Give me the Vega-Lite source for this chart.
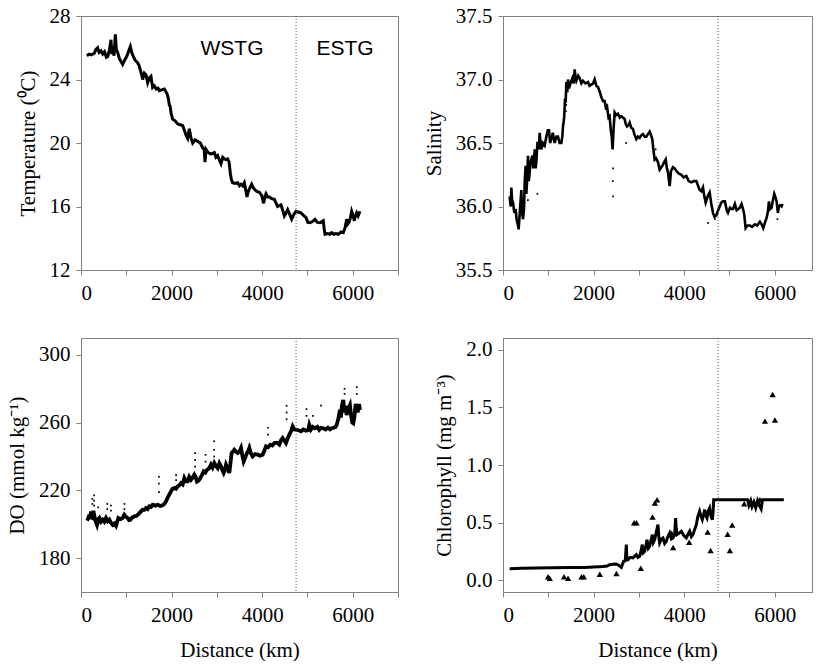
{
"$schema": "https://vega.github.io/schema/vega-lite/v6.json",
"background": "white",
"padding": {"left": 6, "top": 4, "right": 0, "bottom": 0},
"bounds": "flush",
"columns": 2,
"spacing": {"column": 105, "row": 68},
"concat": [
{"width": 317, "height": 254,
 "layer": [
  {"data": {"name": "temp"}, "mark": {"type": "line", "color": "black", "strokeWidth": 3},
   "encoding": {
    "x": {"field": "d", "type": "quantitative", "scale": {"domain": [0, 7000], "nice": false},
          "axis": {"title": null, "values": [0,1000,2000,3000,4000,5000,6000,7000], "format": "d", "labelExpr": "datum.value % 2000 == 0 ? datum.label : ''", "labelPadding": 7, "labelFont": "Liberation Serif", "titleFont": "Liberation Serif"}},
    "y": {"field": "v", "type": "quantitative", "scale": {"domain": [12, 28], "nice": false, "zero": false},
          "axis": {"title": "Temperature (⁰C)", "values": [12,14,16,18,20,22,24,26,28], "format": "d", "labelExpr": "datum.value % 4 == 0 ? datum.label : ''", "labelPadding": 6, "titlePadding": 11, "labelFont": "Liberation Serif", "titleFont": "Liberation Serif"}}
   }},
  {"data": {"name": "div"}, "mark": {"type": "rule", "color": "#555555", "strokeWidth": 1, "strokeDash": [1, 2]},
   "encoding": {"x": {"field": "d", "type": "quantitative"}}},
  {"data": {"name": "regions"}, "mark": {"type": "text", "font": "Liberation Sans", "fontSize": 21, "color": "black", "align": "center", "baseline": "middle"},
   "encoding": {"x": {"field": "d", "type": "quantitative"}, "y": {"field": "v", "type": "quantitative"}, "text": {"field": "t"}}}
 ]},
{"width": 309, "height": 254,
 "layer": [
  {"data": {"name": "sal"}, "mark": {"type": "line", "color": "black", "strokeWidth": 2.6},
   "encoding": {
    "x": {"field": "d", "type": "quantitative", "scale": {"domain": [0, 6823], "nice": false},
          "axis": {"title": null, "values": [0,1000,2000,3000,4000,5000,6000], "format": "d", "labelExpr": "datum.value % 2000 == 0 ? datum.label : ''", "labelPadding": 7, "labelFont": "Liberation Serif", "titleFont": "Liberation Serif"}},
    "y": {"field": "v", "type": "quantitative", "scale": {"domain": [35.5, 37.5], "nice": false, "zero": false},
          "axis": {"title": "Salinity", "values": [35.5,35.75,36,36.25,36.5,36.75,37,37.25,37.5], "format": ".1f", "labelExpr": "(datum.value * 2) % 1 == 0 ? datum.label : ''", "labelPadding": 6, "titlePadding": 11, "labelFont": "Liberation Serif", "titleFont": "Liberation Serif"}}
   }},
  {"data": {"name": "saldots"}, "mark": {"type": "square", "color": "black", "size": 3, "opacity": 1},
   "encoding": {"x": {"field": "d", "type": "quantitative"}, "y": {"field": "v", "type": "quantitative"}}},
  {"data": {"name": "div"}, "mark": {"type": "rule", "color": "#555555", "strokeWidth": 1, "strokeDash": [1, 2]},
   "encoding": {"x": {"field": "d", "type": "quantitative"}}}
 ]},
{"width": 317, "height": 254,
 "layer": [
  {"data": {"name": "do"}, "mark": {"type": "line", "color": "black", "strokeWidth": 3.8},
   "encoding": {
    "x": {"field": "d", "type": "quantitative", "scale": {"domain": [0, 7000], "nice": false},
          "axis": {"title": "Distance (km)", "values": [0,1000,2000,3000,4000,5000,6000,7000], "format": "d", "labelExpr": "datum.value % 2000 == 0 ? datum.label : ''", "labelPadding": 7, "titlePadding": 14, "labelFont": "Liberation Serif", "titleFont": "Liberation Serif"}},
    "y": {"field": "v", "type": "quantitative", "scale": {"domain": [160, 310], "nice": false, "zero": false},
          "axis": {"title": "DO (mmol kg⁻¹)", "values": [180,220,260,300], "format": "d", "labelPadding": 6, "titlePadding": 11, "labelFont": "Liberation Serif", "titleFont": "Liberation Serif"}}
   }},
  {"data": {"name": "dodots"}, "mark": {"type": "square", "color": "black", "size": 3, "opacity": 1},
   "encoding": {"x": {"field": "d", "type": "quantitative"}, "y": {"field": "v", "type": "quantitative"}}},
  {"data": {"name": "div"}, "mark": {"type": "rule", "color": "#555555", "strokeWidth": 1, "strokeDash": [1, 2]},
   "encoding": {"x": {"field": "d", "type": "quantitative"}}}
 ]},
{"width": 309, "height": 254,
 "layer": [
  {"data": {"name": "chl"}, "mark": {"type": "line", "color": "black", "strokeWidth": 3},
   "encoding": {
    "x": {"field": "d", "type": "quantitative", "scale": {"domain": [0, 6823], "nice": false},
          "axis": {"title": "Distance (km)", "values": [0,1000,2000,3000,4000,5000,6000], "format": "d", "labelExpr": "datum.value % 2000 == 0 ? datum.label : ''", "labelPadding": 7, "titlePadding": 14, "labelFont": "Liberation Serif", "titleFont": "Liberation Serif"}},
    "y": {"field": "v", "type": "quantitative", "scale": {"domain": [-0.1, 2.1], "nice": false, "zero": false},
          "axis": {"title": "Chlorophyll (mg m⁻³)", "values": [0,0.25,0.5,0.75,1,1.25,1.5,1.75,2], "format": ".1f", "labelExpr": "(datum.value * 2) % 1 == 0 ? datum.label : ''", "labelPadding": 6, "titlePadding": 11, "labelFont": "Liberation Serif", "titleFont": "Liberation Serif"}}
   }},
  {"data": {"name": "chlobs"}, "mark": {"type": "point", "shape": "triangle-up", "filled": true, "color": "black", "size": 40, "opacity": 1},
   "encoding": {"x": {"field": "d", "type": "quantitative"}, "y": {"field": "v", "type": "quantitative"}}},
  {"data": {"name": "div"}, "mark": {"type": "rule", "color": "#555555", "strokeWidth": 1, "strokeDash": [1, 2]},
   "encoding": {"x": {"field": "d", "type": "quantitative"}}}
 ]}
],
"datasets": {
"div": [{"d":4750}],
"regions": [{"d":3334,"v":25.9,"t":"WSTG"},{"d":5830,"v":25.9,"t":"ESTG"}],
"temp": [{"d":130,"v":25.5},{"d":180,"v":25.6},{"d":230,"v":25.55},{"d":294,"v":25.65},{"d":330,"v":25.9},{"d":368,"v":26.0},{"d":400,"v":25.7},{"d":442,"v":25.8},{"d":480,"v":25.6},{"d":520,"v":25.75},{"d":560,"v":25.4},{"d":590,"v":25.45},{"d":630,"v":25.9},{"d":662,"v":26.5},{"d":680,"v":25.6},{"d":700,"v":26.1},{"d":730,"v":25.5},{"d":758,"v":26.85},{"d":780,"v":25.9},{"d":810,"v":25.7},{"d":850,"v":25.3},{"d":890,"v":25.1},{"d":920,"v":24.95},{"d":960,"v":25.2},{"d":1000,"v":25.4},{"d":1030,"v":25.6},{"d":1060,"v":25.85},{"d":1090,"v":26.07},{"d":1120,"v":25.7},{"d":1163,"v":25.4},{"d":1200,"v":25.2},{"d":1250,"v":25.06},{"d":1280,"v":24.9},{"d":1310,"v":24.6},{"d":1340,"v":24.3},{"d":1362,"v":24.0},{"d":1400,"v":24.4},{"d":1435,"v":24.3},{"d":1472,"v":23.8},{"d":1510,"v":24.1},{"d":1545,"v":24.2},{"d":1582,"v":23.5},{"d":1620,"v":23.6},{"d":1660,"v":23.4},{"d":1700,"v":23.45},{"d":1730,"v":23.3},{"d":1780,"v":23.35},{"d":1840,"v":23.4},{"d":1900,"v":23.1},{"d":1930,"v":22.8},{"d":1950,"v":22.4},{"d":1970,"v":22.3},{"d":1987,"v":21.9},{"d":2024,"v":21.5},{"d":2080,"v":21.4},{"d":2134,"v":21.2},{"d":2190,"v":21.15},{"d":2245,"v":21.1},{"d":2282,"v":20.8},{"d":2320,"v":20.5},{"d":2355,"v":20.3},{"d":2392,"v":20.9},{"d":2430,"v":20.3},{"d":2466,"v":20.0},{"d":2520,"v":20.2},{"d":2576,"v":20.1},{"d":2635,"v":20.0},{"d":2686,"v":19.7},{"d":2720,"v":19.6},{"d":2738,"v":18.8},{"d":2760,"v":19.6},{"d":2810,"v":19.4},{"d":2870,"v":19.3},{"d":2944,"v":19.4},{"d":2980,"v":19.1},{"d":3018,"v":19.2},{"d":3060,"v":18.9},{"d":3091,"v":18.7},{"d":3130,"v":19.1},{"d":3165,"v":19.0},{"d":3200,"v":18.95},{"d":3238,"v":19.0},{"d":3270,"v":18.8},{"d":3297,"v":18.1},{"d":3320,"v":17.7},{"d":3349,"v":17.5},{"d":3400,"v":17.45},{"d":3459,"v":17.5},{"d":3500,"v":17.3},{"d":3533,"v":17.4},{"d":3570,"v":17.3},{"d":3606,"v":17.5},{"d":3640,"v":17.0},{"d":3665,"v":16.6},{"d":3690,"v":16.9},{"d":3717,"v":17.1},{"d":3768,"v":17.4},{"d":3800,"v":17.2},{"d":3827,"v":17.1},{"d":3880,"v":16.95},{"d":3938,"v":16.9},{"d":3990,"v":16.7},{"d":4033,"v":16.2},{"d":4060,"v":16.6},{"d":4085,"v":16.8},{"d":4120,"v":16.6},{"d":4158,"v":16.6},{"d":4210,"v":16.5},{"d":4269,"v":16.45},{"d":4310,"v":16.2},{"d":4342,"v":16.0},{"d":4380,"v":16.05},{"d":4416,"v":16.1},{"d":4450,"v":15.8},{"d":4490,"v":15.4},{"d":4530,"v":15.6},{"d":4563,"v":15.8},{"d":4610,"v":15.5},{"d":4652,"v":15.2},{"d":4700,"v":15.5},{"d":4747,"v":15.7},{"d":4800,"v":15.65},{"d":4858,"v":15.6},{"d":4910,"v":15.45},{"d":4968,"v":15.3},{"d":5010,"v":15.0},{"d":5056,"v":14.98},{"d":5110,"v":15.05},{"d":5167,"v":15.19},{"d":5220,"v":15.0},{"d":5277,"v":14.98},{"d":5320,"v":15.05},{"d":5350,"v":15.1},{"d":5370,"v":14.6},{"d":5388,"v":14.25},{"d":5440,"v":14.3},{"d":5490,"v":14.25},{"d":5535,"v":14.35},{"d":5580,"v":14.25},{"d":5630,"v":14.3},{"d":5682,"v":14.25},{"d":5740,"v":14.4},{"d":5792,"v":14.35},{"d":5830,"v":14.65},{"d":5866,"v":15.2},{"d":5890,"v":14.9},{"d":5917,"v":15.0},{"d":5950,"v":15.3},{"d":5977,"v":15.7},{"d":6000,"v":15.5},{"d":6036,"v":15.1},{"d":6060,"v":15.4},{"d":6087,"v":15.6},{"d":6120,"v":15.4},{"d":6160,"v":15.7}],
"sal": [{"d":147,"v":36.08},{"d":170,"v":36.0},{"d":184,"v":36.15},{"d":200,"v":36.05},{"d":221,"v":36.03},{"d":250,"v":35.95},{"d":280,"v":35.98},{"d":300,"v":35.9},{"d":331,"v":35.85},{"d":345,"v":35.82},{"d":370,"v":35.95},{"d":405,"v":36.13},{"d":420,"v":35.95},{"d":442,"v":35.9},{"d":464,"v":35.98},{"d":480,"v":36.2},{"d":500,"v":36.32},{"d":515,"v":36.1},{"d":530,"v":36.19},{"d":552,"v":36.4},{"d":570,"v":36.2},{"d":589,"v":36.27},{"d":610,"v":36.35},{"d":648,"v":36.4},{"d":670,"v":36.3},{"d":700,"v":36.45},{"d":720,"v":36.3},{"d":736,"v":36.35},{"d":760,"v":36.5},{"d":773,"v":36.5},{"d":790,"v":36.45},{"d":810,"v":36.58},{"d":830,"v":36.5},{"d":846,"v":36.45},{"d":880,"v":36.5},{"d":920,"v":36.48},{"d":957,"v":36.55},{"d":990,"v":36.6},{"d":1016,"v":36.6},{"d":1040,"v":36.5},{"d":1067,"v":36.53},{"d":1100,"v":36.58},{"d":1141,"v":36.5},{"d":1180,"v":36.55},{"d":1214,"v":36.55},{"d":1250,"v":36.5},{"d":1288,"v":36.5},{"d":1310,"v":36.55},{"d":1325,"v":36.63},{"d":1350,"v":36.7},{"d":1370,"v":36.85},{"d":1384,"v":36.82},{"d":1398,"v":36.98},{"d":1420,"v":36.9},{"d":1435,"v":37.0},{"d":1460,"v":36.93},{"d":1472,"v":36.95},{"d":1500,"v":36.98},{"d":1531,"v":37.01},{"d":1560,"v":36.97},{"d":1582,"v":37.08},{"d":1600,"v":37.02},{"d":1619,"v":36.99},{"d":1660,"v":37.03},{"d":1693,"v":37.01},{"d":1730,"v":36.97},{"d":1766,"v":36.99},{"d":1820,"v":36.97},{"d":1877,"v":36.98},{"d":1910,"v":36.95},{"d":1950,"v":36.96},{"d":1990,"v":36.97},{"d":2024,"v":37.0},{"d":2060,"v":36.95},{"d":2098,"v":36.94},{"d":2140,"v":36.9},{"d":2171,"v":36.86},{"d":2210,"v":36.83},{"d":2245,"v":36.83},{"d":2270,"v":36.78},{"d":2296,"v":36.79},{"d":2330,"v":36.7},{"d":2355,"v":36.71},{"d":2380,"v":36.6},{"d":2400,"v":36.55},{"d":2420,"v":36.45},{"d":2440,"v":36.6},{"d":2466,"v":36.74},{"d":2500,"v":36.72},{"d":2539,"v":36.73},{"d":2580,"v":36.7},{"d":2613,"v":36.71},{"d":2650,"v":36.7},{"d":2686,"v":36.69},{"d":2710,"v":36.65},{"d":2738,"v":36.63},{"d":2770,"v":36.64},{"d":2797,"v":36.66},{"d":2830,"v":36.62},{"d":2870,"v":36.61},{"d":2900,"v":36.57},{"d":2944,"v":36.53},{"d":2980,"v":36.55},{"d":3018,"v":36.54},{"d":3050,"v":36.56},{"d":3091,"v":36.57},{"d":3130,"v":36.55},{"d":3165,"v":36.55},{"d":3200,"v":36.57},{"d":3238,"v":36.59},{"d":3270,"v":36.56},{"d":3297,"v":36.53},{"d":3320,"v":36.45},{"d":3349,"v":36.37},{"d":3380,"v":36.38},{"d":3422,"v":36.35},{"d":3440,"v":36.32},{"d":3459,"v":36.29},{"d":3500,"v":36.31},{"d":3533,"v":36.33},{"d":3560,"v":36.35},{"d":3592,"v":36.37},{"d":3620,"v":36.3},{"d":3643,"v":36.27},{"d":3665,"v":36.2},{"d":3680,"v":36.16},{"d":3710,"v":36.28},{"d":3754,"v":36.31},{"d":3790,"v":36.3},{"d":3827,"v":36.28},{"d":3880,"v":36.26},{"d":3938,"v":36.25},{"d":3990,"v":36.23},{"d":4048,"v":36.24},{"d":4100,"v":36.2},{"d":4158,"v":36.19},{"d":4210,"v":36.2},{"d":4269,"v":36.2},{"d":4300,"v":36.17},{"d":4342,"v":36.13},{"d":4380,"v":36.12},{"d":4416,"v":36.15},{"d":4445,"v":36.08},{"d":4475,"v":36.03},{"d":4520,"v":36.08},{"d":4563,"v":36.11},{"d":4600,"v":36.02},{"d":4637,"v":35.95},{"d":4670,"v":35.92},{"d":4710,"v":35.93},{"d":4750,"v":35.97},{"d":4784,"v":36.0},{"d":4820,"v":36.03},{"d":4858,"v":36.04},{"d":4900,"v":36.04},{"d":4940,"v":35.97},{"d":4968,"v":35.95},{"d":5010,"v":35.99},{"d":5042,"v":35.98},{"d":5080,"v":35.98},{"d":5120,"v":36.02},{"d":5160,"v":35.97},{"d":5194,"v":35.98},{"d":5230,"v":35.99},{"d":5268,"v":36.02},{"d":5300,"v":35.98},{"d":5326,"v":35.94},{"d":5357,"v":35.83},{"d":5400,"v":35.85},{"d":5452,"v":35.85},{"d":5500,"v":35.84},{"d":5562,"v":35.86},{"d":5610,"v":35.85},{"d":5673,"v":35.88},{"d":5710,"v":35.86},{"d":5746,"v":35.83},{"d":5790,"v":35.88},{"d":5820,"v":35.91},{"d":5850,"v":35.96},{"d":5872,"v":36.04},{"d":5900,"v":35.98},{"d":5931,"v":35.99},{"d":5960,"v":36.05},{"d":5990,"v":36.1},{"d":6010,"v":36.08},{"d":6042,"v":36.04},{"d":6070,"v":35.95},{"d":6090,"v":36.0},{"d":6115,"v":36.01},{"d":6150,"v":36.0},{"d":6174,"v":36.02}],
"saldots": [{"d":2430,"v":36.08},{"d":2430,"v":36.3},{"d":2425,"v":36.2},{"d":760,"v":36.1},{"d":550,"v":36.05},{"d":2720,"v":36.5},{"d":3370,"v":36.45},{"d":4530,"v":35.87},{"d":4680,"v":35.9},{"d":6060,"v":35.9},{"d":1390,"v":36.75},{"d":1395,"v":36.8}],
"do": [{"d":132,"v":202.1},{"d":160,"v":203.5},{"d":184,"v":205.6},{"d":200,"v":203},{"d":221,"v":207.6},{"d":240,"v":204},{"d":258,"v":203.7},{"d":275,"v":208},{"d":294,"v":205},{"d":320,"v":202},{"d":353,"v":199.7},{"d":380,"v":203},{"d":405,"v":203.7},{"d":440,"v":201.5},{"d":478,"v":202.7},{"d":515,"v":201.5},{"d":552,"v":203.7},{"d":590,"v":201.8},{"d":626,"v":202.7},{"d":660,"v":201},{"d":700,"v":199.7},{"d":740,"v":200.5},{"d":773,"v":199.1},{"d":800,"v":201.5},{"d":824,"v":203.7},{"d":870,"v":203},{"d":920,"v":203.7},{"d":957,"v":205.6},{"d":990,"v":204.5},{"d":1030,"v":203.7},{"d":1060,"v":202.5},{"d":1089,"v":202.7},{"d":1130,"v":204},{"d":1178,"v":204.7},{"d":1230,"v":205},{"d":1288,"v":206.6},{"d":1320,"v":207.5},{"d":1362,"v":208.6},{"d":1400,"v":208.5},{"d":1435,"v":209.6},{"d":1470,"v":209},{"d":1509,"v":210.6},{"d":1545,"v":210.2},{"d":1582,"v":211.5},{"d":1640,"v":211},{"d":1693,"v":211.5},{"d":1750,"v":210.8},{"d":1803,"v":211.2},{"d":1840,"v":212},{"d":1877,"v":213.5},{"d":1928,"v":216.5},{"d":1960,"v":218},{"d":1987,"v":219.4},{"d":2020,"v":221},{"d":2061,"v":221.4},{"d":2100,"v":221},{"d":2134,"v":222.4},{"d":2170,"v":223},{"d":2208,"v":224.3},{"d":2245,"v":223.5},{"d":2282,"v":227.3},{"d":2320,"v":225.3},{"d":2355,"v":225.3},{"d":2390,"v":228},{"d":2429,"v":226.3},{"d":2465,"v":227.5},{"d":2502,"v":229.3},{"d":2530,"v":228},{"d":2561,"v":225.3},{"d":2600,"v":226},{"d":2635,"v":227.3},{"d":2670,"v":229},{"d":2708,"v":231.2},{"d":2745,"v":230.5},{"d":2782,"v":232.2},{"d":2830,"v":233},{"d":2870,"v":235.2},{"d":2905,"v":233.5},{"d":2944,"v":236.2},{"d":2980,"v":234.5},{"d":3018,"v":233.2},{"d":3055,"v":236},{"d":3091,"v":234.2},{"d":3120,"v":232},{"d":3150,"v":230.3},{"d":3175,"v":232},{"d":3202,"v":235.2},{"d":3240,"v":233},{"d":3275,"v":230.3},{"d":3300,"v":236},{"d":3327,"v":242.1},{"d":3360,"v":243},{"d":3386,"v":244.0},{"d":3420,"v":243},{"d":3459,"v":242.1},{"d":3500,"v":243},{"d":3533,"v":245.0},{"d":3560,"v":241},{"d":3592,"v":237.1},{"d":3630,"v":239.5},{"d":3665,"v":242.1},{"d":3690,"v":243},{"d":3717,"v":245.0},{"d":3750,"v":242},{"d":3790,"v":240.1},{"d":3845,"v":241.5},{"d":3901,"v":241.1},{"d":3955,"v":240.5},{"d":4011,"v":241.1},{"d":4050,"v":243.5},{"d":4085,"v":246.0},{"d":4130,"v":245.5},{"d":4180,"v":247.0},{"d":4225,"v":246.5},{"d":4269,"v":248.0},{"d":4325,"v":248.2},{"d":4379,"v":247.0},{"d":4415,"v":249.5},{"d":4453,"v":250.9},{"d":4490,"v":249.5},{"d":4526,"v":248.0},{"d":4560,"v":250.5},{"d":4600,"v":252.9},{"d":4640,"v":255},{"d":4674,"v":257.8},{"d":4710,"v":256},{"d":4747,"v":255.9},{"d":4800,"v":255.5},{"d":4858,"v":254.9},{"d":4910,"v":256},{"d":4968,"v":255.3},{"d":5019,"v":255.7},{"d":5042,"v":258.8},{"d":5080,"v":256},{"d":5120,"v":257.5},{"d":5167,"v":256.7},{"d":5220,"v":257.5},{"d":5260,"v":255.8},{"d":5300,"v":257},{"d":5350,"v":256.7},{"d":5400,"v":256},{"d":5450,"v":257},{"d":5500,"v":256},{"d":5535,"v":256.7},{"d":5580,"v":257},{"d":5620,"v":257.5},{"d":5645,"v":258.6},{"d":5680,"v":262},{"d":5718,"v":267.5},{"d":5740,"v":263},{"d":5760,"v":270},{"d":5792,"v":273.4},{"d":5815,"v":266},{"d":5840,"v":270},{"d":5866,"v":264.5},{"d":5900,"v":268},{"d":5939,"v":270.4},{"d":5970,"v":263},{"d":5990,"v":260},{"d":6013,"v":259.6},{"d":6040,"v":264},{"d":6065,"v":271},{"d":6087,"v":269.4},{"d":6110,"v":266},{"d":6140,"v":271},{"d":6160,"v":267.5}],
"dodots": [{"d":250,"v":215},{"d":250,"v":212},{"d":290,"v":217},{"d":290,"v":214},{"d":290,"v":211},{"d":580,"v":212},{"d":580,"v":209},{"d":660,"v":211},{"d":660,"v":208},{"d":380,"v":210},{"d":960,"v":212},{"d":960,"v":209},{"d":1720,"v":228},{"d":1720,"v":224},{"d":1720,"v":219},{"d":2100,"v":229},{"d":2100,"v":226},{"d":2520,"v":242},{"d":2520,"v":238},{"d":2520,"v":234},{"d":2750,"v":241},{"d":2750,"v":237},{"d":2940,"v":249},{"d":2940,"v":244},{"d":2940,"v":240},{"d":3720,"v":247},{"d":4130,"v":257},{"d":4130,"v":253},{"d":4540,"v":270},{"d":4540,"v":266},{"d":4540,"v":262},{"d":4980,"v":268},{"d":4980,"v":264},{"d":5120,"v":264},{"d":5300,"v":270},{"d":5820,"v":280},{"d":5820,"v":277},{"d":6090,"v":281},{"d":6090,"v":277}],
"chl": [{"d":147,"v":0.102},{"d":400,"v":0.105},{"d":736,"v":0.108},{"d":1100,"v":0.11},{"d":1472,"v":0.112},{"d":1800,"v":0.113},{"d":2208,"v":0.12},{"d":2300,"v":0.125},{"d":2355,"v":0.137},{"d":2420,"v":0.14},{"d":2502,"v":0.143},{"d":2560,"v":0.13},{"d":2613,"v":0.114},{"d":2664,"v":0.166},{"d":2700,"v":0.17},{"d":2723,"v":0.31},{"d":2735,"v":0.19},{"d":2760,"v":0.18},{"d":2810,"v":0.2},{"d":2870,"v":0.195},{"d":2944,"v":0.223},{"d":2980,"v":0.2},{"d":3018,"v":0.209},{"d":3050,"v":0.26},{"d":3076,"v":0.31},{"d":3100,"v":0.24},{"d":3128,"v":0.252},{"d":3155,"v":0.3},{"d":3180,"v":0.353},{"d":3210,"v":0.28},{"d":3238,"v":0.296},{"d":3270,"v":0.35},{"d":3297,"v":0.397},{"d":3320,"v":0.33},{"d":3349,"v":0.353},{"d":3385,"v":0.42},{"d":3422,"v":0.483},{"d":3440,"v":0.38},{"d":3459,"v":0.325},{"d":3500,"v":0.36},{"d":3533,"v":0.368},{"d":3570,"v":0.32},{"d":3606,"v":0.339},{"d":3640,"v":0.38},{"d":3680,"v":0.411},{"d":3720,"v":0.36},{"d":3754,"v":0.368},{"d":3790,"v":0.4},{"d":3812,"v":0.541},{"d":3825,"v":0.45},{"d":3842,"v":0.397},{"d":3890,"v":0.41},{"d":3938,"v":0.426},{"d":3990,"v":0.39},{"d":4048,"v":0.368},{"d":4085,"v":0.4},{"d":4122,"v":0.426},{"d":4160,"v":0.38},{"d":4195,"v":0.397},{"d":4230,"v":0.44},{"d":4269,"v":0.483},{"d":4300,"v":0.55},{"d":4342,"v":0.599},{"d":4370,"v":0.56},{"d":4401,"v":0.527},{"d":4430,"v":0.57},{"d":4453,"v":0.613},{"d":4480,"v":0.56},{"d":4504,"v":0.541},{"d":4530,"v":0.6},{"d":4563,"v":0.628},{"d":4590,"v":0.56},{"d":4622,"v":0.527},{"d":4640,"v":0.6},{"d":4652,"v":0.7},{"d":4700,"v":0.7},{"d":5000,"v":0.7},{"d":5300,"v":0.7},{"d":5400,"v":0.7},{"d":5430,"v":0.65},{"d":5470,"v":0.69},{"d":5500,"v":0.64},{"d":5540,"v":0.68},{"d":5580,"v":0.63},{"d":5620,"v":0.69},{"d":5660,"v":0.65},{"d":5700,"v":0.62},{"d":5730,"v":0.7},{"d":6000,"v":0.7},{"d":6200,"v":0.7}],
"chlobs": [{"d":995,"v":0.033},{"d":1032,"v":0.02},{"d":1348,"v":0.033},{"d":1437,"v":0.02},{"d":1733,"v":0.033},{"d":1784,"v":0.033},{"d":2137,"v":0.053},{"d":2506,"v":0.06},{"d":2895,"v":0.5},{"d":2948,"v":0.5},{"d":3043,"v":0.105},{"d":3302,"v":0.55},{"d":3353,"v":0.67},{"d":3403,"v":0.7},{"d":3721,"v":0.41},{"d":3757,"v":0.286},{"d":4111,"v":0.33},{"d":4518,"v":0.42},{"d":4584,"v":0.26},{"d":4960,"v":0.4},{"d":5010,"v":0.26},{"d":5061,"v":0.48},{"d":5327,"v":0.665},{"d":5526,"v":0.66},{"d":5673,"v":0.7},{"d":5784,"v":1.38},{"d":5954,"v":1.61},{"d":6005,"v":1.39}]
},
"config": {
 "font": "Liberation Serif",
 "view": {"stroke": "#808080", "strokeWidth": 1},
 "axis": {"grid": false, "domainColor": "#808080", "tickColor": "#808080", "tickSize": 5,
          "labelFont": "Liberation Serif", "titleFont": "Liberation Serif", "labelFontSize": 21, "titleFontSize": 21,
          "titleFontWeight": "normal", "labelColor": "black", "titleColor": "black"}
}
}
